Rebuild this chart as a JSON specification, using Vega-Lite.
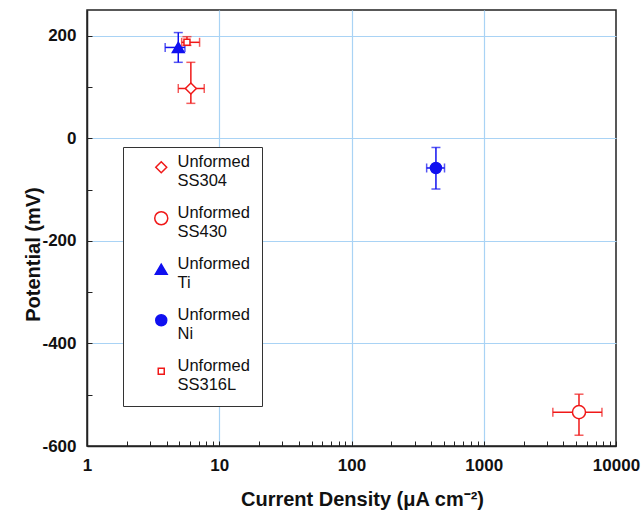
{
  "$schema": "https://vega.github.io/schema/vega-lite/v6.json",
  "width": 529,
  "height": 436,
  "autosize": {"type": "none"},
  "padding": {"left": 87, "top": 10, "right": 27, "bottom": 75},
  "background": "white",
  "data": {
    "values": [
      {"material": "Unformed SS304", "cd": 6.1, "cdlo": 4.9, "cdhi": 7.7, "pot": 97, "plo": 68, "phi": 148},
      {"material": "Unformed SS430", "cd": 5250, "cdlo": 3330, "cdhi": 7830, "pot": -534, "plo": -579, "phi": -499},
      {"material": "Unformed Ti", "cd": 4.9, "cdlo": 3.9, "cdhi": 5.5, "pot": 177, "plo": 148, "phi": 206},
      {"material": "Unformed Ni", "cd": 435, "cdlo": 370, "cdhi": 505, "pot": -58, "plo": -99, "phi": -18},
      {"material": "Unformed SS316L", "cd": 5.7, "cdlo": 5.2, "cdhi": 7.1, "pot": 187, "plo": 181, "phi": 198}
    ]
  },
  "config": {
    "font": "Liberation Sans",
    "view": {"stroke": "#222", "strokeWidth": 1.5},
    "axis": {
      "labelFont": "Liberation Sans",
      "labelFontWeight": "bold",
      "labelFontSize": 17,
      "labelColor": "#111",
      "titleFont": "Liberation Sans",
      "titleFontWeight": "bold",
      "titleFontSize": 20,
      "titleColor": "#111",
      "domainColor": "#222",
      "domainWidth": 1.5,
      "tickColor": "#222",
      "tickWidth": 1,
      "tickSize": -5,
      "gridColor": "#a9d3f5",
      "gridWidth": 1.2
    }
  },
  "layer": [
    {
      "mark": {"type": "rule", "strokeWidth": 1.5},
      "encoding": {
        "x": {
          "field": "cdlo", "type": "quantitative",
          "scale": {"type": "log", "domain": [1, 10000]},
          "axis": {
            "title": "Current Density (μA cm⁻²)",
            "values": [1,2,3,4,5,6,7,8,9,10,20,30,40,50,60,70,80,90,100,200,300,400,500,600,700,800,900,1000,2000,3000,4000,5000,6000,7000,8000,9000,10000],
            "labelExpr": "indexof([1,10,100,1000,10000], datum.value) >= 0 ? '' + datum.value : ''",
            "labelPadding": 16,
            "labelFlush": false,
            "labelOverlap": false,
            "gridOpacity": {"condition": {"test": "indexof([10,100,1000], datum.value) >= 0", "value": 1}, "value": 0},
            "titleX": 275,
            "titleY": 53,
            "titleBaseline": "middle",
            "titleAnchor": "middle"
          }
        },
        "x2": {"field": "cdhi"},
        "y": {
          "field": "pot", "type": "quantitative",
          "scale": {"domain": [-600, 250], "nice": false, "zero": false},
          "axis": {
            "title": "Potential (mV)",
            "values": [-600,-550,-500,-450,-400,-350,-300,-250,-200,-150,-100,-50,0,50,100,150,200],
            "labelExpr": "datum.value % 200 === 0 ? '' + datum.value : ''",
            "labelPadding": 16,
            "labelOverlap": false,
            "gridOpacity": {"condition": {"test": "datum.value % 200 === 0 && datum.value > -600", "value": 1}, "value": 0},
            "titleX": -54,
            "titleY": 244,
            "titleAngle": -90,
            "titleBaseline": "middle",
            "titleAlign": "center"
          }
        },
        "color": {
          "field": "material", "type": "nominal",
          "scale": {"domain": ["Unformed Ti", "Unformed Ni", "Unformed SS304", "Unformed SS430", "Unformed SS316L"], "range": ["#1010f0", "#1010f0", "#f01818", "#f01818", "#f01818"]},
          "legend": null
        }
      }
    },
    {
      "mark": {"type": "rule", "strokeWidth": 1.5},
      "encoding": {
        "x": {"field": "cd", "type": "quantitative"},
        "y": {"field": "plo", "type": "quantitative"},
        "y2": {"field": "phi"},
        "color": {"field": "material", "type": "nominal", "legend": null}
      }
    },
    {
      "mark": {"type": "tick", "orient": "horizontal", "size": 9, "thickness": 1.5},
      "encoding": {
        "x": {"field": "cd", "type": "quantitative"},
        "y": {"field": "plo", "type": "quantitative"},
        "color": {"field": "material", "type": "nominal", "legend": null}
      }
    },
    {
      "mark": {"type": "tick", "orient": "horizontal", "size": 9, "thickness": 1.5},
      "encoding": {
        "x": {"field": "cd", "type": "quantitative"},
        "y": {"field": "phi", "type": "quantitative"},
        "color": {"field": "material", "type": "nominal", "legend": null}
      }
    },
    {
      "mark": {"type": "tick", "orient": "vertical", "size": 9, "thickness": 1.5},
      "encoding": {
        "x": {"field": "cdlo", "type": "quantitative"},
        "y": {"field": "pot", "type": "quantitative"},
        "color": {"field": "material", "type": "nominal", "legend": null}
      }
    },
    {
      "mark": {"type": "tick", "orient": "vertical", "size": 9, "thickness": 1.5},
      "encoding": {
        "x": {"field": "cdhi", "type": "quantitative"},
        "y": {"field": "pot", "type": "quantitative"},
        "color": {"field": "material", "type": "nominal", "legend": null}
      }
    },
    {
      "mark": {"type": "point", "strokeWidth": 1.5, "opacity": 1},
      "encoding": {
        "x": {"field": "cd", "type": "quantitative"},
        "y": {"field": "pot", "type": "quantitative"},
        "shape": {
          "field": "material", "type": "nominal",
          "scale": {"domain": ["Unformed SS304", "Unformed SS430", "Unformed Ti", "Unformed Ni", "Unformed SS316L"], "range": ["diamond", "circle", "triangle-up", "circle", "square"]},
          "legend": {
            "orient": "none",
            "legendX": 36,
            "legendY": 137,
            "title": null,
            "strokeColor": "#333",
            "fillColor": "white",
            "padding": 12,
            "labelFont": "Liberation Sans",
            "labelFontSize": 16.5,
            "labelColor": "#111",
            "labelBaseline": "alphabetic",
            "labelOffset": 8,
            "symbolOffset": 18,
            "rowPadding": 15,
            "symbolStrokeWidth": 1.5,
            "labelExpr": "split(datum.label, ' ')"
          }
        },
        "stroke": {
          "field": "material", "type": "nominal",
          "scale": {"domain": ["Unformed SS304", "Unformed SS430", "Unformed Ti", "Unformed Ni", "Unformed SS316L"], "range": ["#f01818", "#f01818", "#1010f0", "#1010f0", "#f01818"]}
        },
        "fill": {
          "field": "material", "type": "nominal",
          "scale": {"domain": ["Unformed SS304", "Unformed SS430", "Unformed Ti", "Unformed Ni", "Unformed SS316L"], "range": ["white", "white", "#1010f0", "#1010f0", "white"]}
        },
        "size": {
          "field": "material", "type": "nominal",
          "scale": {"type": "ordinal", "domain": ["Unformed SS304", "Unformed SS430", "Unformed Ti", "Unformed Ni", "Unformed SS316L"], "range": [120, 170, 140, 121, 36]}
        }
      }
    }
  ]
}
